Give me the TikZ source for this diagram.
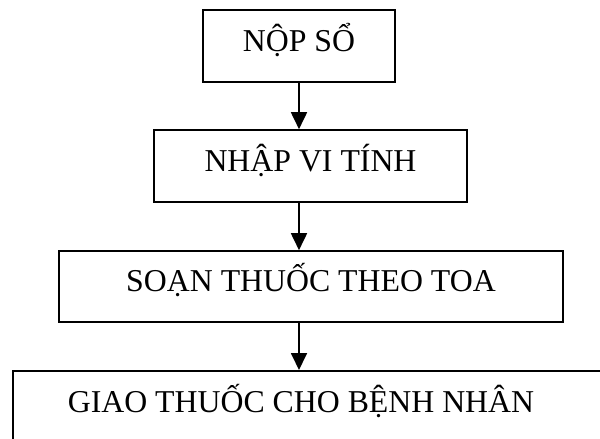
\documentclass[tikz,border=0pt]{standalone}
\usepackage{fontspec}
\setmainfont{Liberation Serif}
\usetikzlibrary{arrows.meta}

\begin{document}
\begin{tikzpicture}[x=1pt,y=-1pt,line join=miter,
  >={Triangle[width=16pt,length=17pt]},
  stage/.style={draw,line width=1.6pt,inner sep=0pt,
    text height=22pt,text depth=12pt,
    font=\fontsize{31.8}{38}\selectfont},
  flow/.style={->,line width=1.8pt}]
%%
\useasboundingbox (0,0) rectangle (600,439);
\clip (0,0) rectangle (600,439);
\node (nop_so) at (299,46) [stage,minimum width=192pt,minimum height=72pt] {NỘP SỔ};
  \node (nhap_vi_tinh) at (310.5,166) [stage,minimum width=313pt,minimum height=72pt] {NHẬP VI TÍNH};
  \node (soan_thuoc) at (311,286.5) [stage,minimum width=504pt,minimum height=71pt] {SOẠN THUỐC THEO TOA};
  \node (giao_thuoc) at (12,370) [draw,line width=1.6pt,anchor=north west,minimum width=640pt,minimum height=100pt] {};
  \node (giao_text) at (301,412) [anchor=base,inner sep=0pt,font=\fontsize{31.8}{38}\selectfont] {GIAO THUỐC CHO BỆNH NHÂN};
  \draw [flow] (nop_so.south) -- (nop_so.south |- nhap_vi_tinh.north);
  \draw [flow] (nhap_vi_tinh.south -| nop_so.south) -- (soan_thuoc.north -| nop_so.south);
  \draw [flow] (soan_thuoc.south -| nop_so.south) -- (giao_thuoc.north -| nop_so.south);
%
\end{tikzpicture}
\end{document}
